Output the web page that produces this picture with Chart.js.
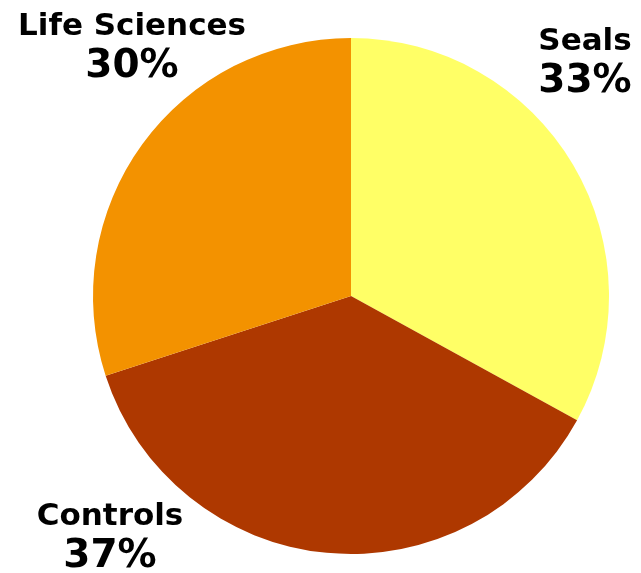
<!DOCTYPE html>
<html>
<head>
<meta charset="utf-8">
<script src="https://cdn.jsdelivr.net/npm/chart.js@4/dist/chart.umd.min.js"></script>
<style>
  html, body { margin: 0; padding: 0; background: #ffffff; }
  #wrap { position: relative; width: 641px; height: 573px; }
</style>
</head>
<body>
<div id="wrap"><canvas id="pie"></canvas></div>
<script>
// Segment data, clockwise from 12 o'clock
const categories = ['Seals', 'Controls', 'Life Sciences'];
const shares = [33, 37, 30];
const sliceColors = ['#FFFF66', '#AE3800', '#F39200'];

// Where each category's caption sits (centre x, baseline of name line)
const captionSpots = [
  { x: 585, y: 50 },
  { x: 110, y: 525 },
  { x: 132, y: 35 }
];

const captions = {
  id: 'captions',
  afterDraw(chart) {
    const ctx = chart.ctx;
    const data = chart.data.datasets[0].data;
    ctx.save();
    ctx.fillStyle = '#000000';
    ctx.textAlign = 'center';
    ctx.textBaseline = 'alphabetic';
    chart.data.labels.forEach((label, i) => {
      const p = captionSpots[i];
      ctx.font = "bold 31px 'DejaVu Sans', Verdana, sans-serif";
      ctx.fillText(label, p.x, p.y);
      ctx.font = "bold 39px 'DejaVu Sans', Verdana, sans-serif";
      ctx.fillText(data[i] + '%', p.x, p.y + 42);
    });
    ctx.restore();
  }
};

new Chart(document.getElementById('pie'), {
  type: 'pie',
  data: {
    labels: categories,
    datasets: [{
      data: shares,
      backgroundColor: sliceColors,
      borderWidth: 0
    }]
  },
  options: {
    responsive: true,
    maintainAspectRatio: false,
    animation: false,
    layout: { padding: { left: 93, right: 32, top: 38, bottom: 19 } },
    plugins: {
      legend: { display: false },
      tooltip: { enabled: false }
    }
  },
  plugins: [captions]
});
</script>
</body>
</html>
